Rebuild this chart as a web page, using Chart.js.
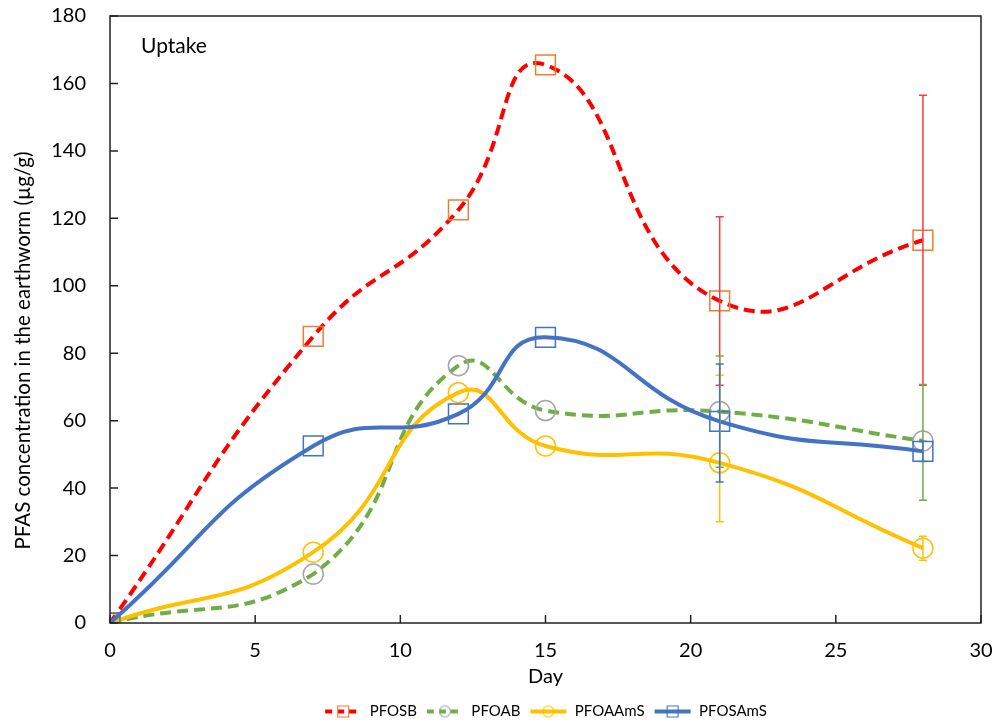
<!DOCTYPE html>
<html>
<head>
<meta charset="utf-8">
<script src="https://cdn.jsdelivr.net/npm/chart.js@4/dist/chart.umd.min.js"></script>
<style>
  html, body { margin: 0; padding: 0; background: #fff; }
  #wrap { width: 997px; height: 725px; }
</style>
</head>
<body>
<div id="wrap"><canvas id="uptakeChart"></canvas></div>
<script>
// sampling days
const days = [0, 7, 12, 15, 21, 28];

// mean concentrations (µg/g)
const pfosb = [0, 85, 122.5, 165.5, 95.5, 113.5];
const pfoab = [0, 14.5, 76.3, 63, 62.7, 54];
const pfoaams = [0, 21, 68.3, 52.5, 47.5, 22.2];
const pfosams = [0, 52.5, 62, 84.7, 59.8, 50.9];

// error bars (upper / lower), 0 = none shown
const pfosbErrUp = [0, 0, 0, 0, 25, 43];
const pfosbErrDown = [0, 0, 0, 0, 25, 43];
const pfoabErrUp = [0, 0, 0, 0, 16.5, 16.7];
const pfoabErrDown = [0, 0, 0, 0, 16.5, 17.6];
const pfoaamsErrUp = [0, 0, 0, 0, 26, 3.5];
const pfoaamsErrDown = [0, 0, 0, 0, 17.5, 3.6];
const pfosamsErrUp = [0, 0, 0, 0, 17, 3];
const pfosamsErrDown = [0, 0, 0, 0, 18, 3];

const xTicks = [0, 5, 10, 15, 20, 25, 30];
const yTicks = [0, 20, 40, 60, 80, 100, 120, 140, 160, 180];

const yTitle = 'PFAS concentration in the earthworm (µg/g)';
const FONT = 'Lato, "Open Sans", sans-serif';

function points(values) {
  return days.map((d, i) => ({ x: d, y: values[i] }));
}

// fixed axis box, no extra room reserved for overhanging tick labels
function fixBox(sc, w, h) {
  if (w) sc.width = w;
  if (h) sc.height = h;
  sc.paddingTop = sc.paddingBottom = sc.paddingLeft = sc.paddingRight = 0;
}

// small legend swatch: line sample with the marker in the middle
function swatch(lineColor, dash, markerColor, shape) {
  const c = document.createElement('canvas');
  c.width = 38; c.height = 14;
  const g = c.getContext('2d');
  g.strokeStyle = lineColor;
  g.lineWidth = 4;
  g.setLineDash(dash);
  g.beginPath(); g.moveTo(1, 7); g.lineTo(37, 7); g.stroke();
  g.setLineDash([]);
  g.strokeStyle = markerColor;
  g.lineWidth = 1.2;
  g.beginPath();
  if (shape === 'rect') g.rect(13.5, 1.5, 11, 11);
  else g.arc(19, 7, 5.5, 0, Math.PI * 2);
  g.stroke();
  return c;
}

const series = [
  { label: 'PFOSB', data: pfosb, up: pfosbErrUp, down: pfosbErrDown, color: '#FF0000', marker: '#ED7D31', shape: 'rect', dash: [11, 6], errColor: '#FF3B3B', order: 4 },
  { label: 'PFOAB', data: pfoab, up: pfoabErrUp, down: pfoabErrDown, color: '#70AD47', marker: '#A5A5A5', shape: 'circle', dash: [11, 6], errColor: '#70AD47', order: 3 },
  { label: 'PFOAAmS', data: pfoaams, up: pfoaamsErrUp, down: pfoaamsErrDown, color: '#FFC000', marker: '#FFC000', shape: 'circle', dash: [], errColor: '#FFC000', order: 2 },
  { label: 'PFOSAmS', data: pfosams, up: pfosamsErrUp, down: pfosamsErrDown, color: '#4472C4', marker: '#4472C4', shape: 'rect', dash: [], errColor: '#4472C4', order: 1 }
];

// error bars, inward tick marks, frame, y title and the "Uptake" note
const decorations = {
  id: 'decorations',
  afterDatasetsDraw(chart) {
    const ctx = chart.ctx;
    const xs = chart.scales.x, ys = chart.scales.y;
    ctx.save();
    series.forEach(s => {
      ctx.strokeStyle = s.errColor;
      ctx.lineWidth = 1.5;
      days.forEach((d, i) => {
        if (!s.up[i] && !s.down[i]) return;
        const px = xs.getPixelForValue(d);
        const top = ys.getPixelForValue(s.data[i] + s.up[i]);
        const bot = ys.getPixelForValue(s.data[i] - s.down[i]);
        ctx.beginPath();
        ctx.moveTo(px, top); ctx.lineTo(px, bot);
        ctx.moveTo(px - 4, top); ctx.lineTo(px + 4, top);
        ctx.moveTo(px - 4, bot); ctx.lineTo(px + 4, bot);
        ctx.stroke();
      });
    });
    ctx.restore();
  },
  afterDraw(chart) {
    const ctx = chart.ctx;
    const a = chart.chartArea;
    const xs = chart.scales.x, ys = chart.scales.y;
    ctx.save();
    ctx.strokeStyle = '#222';
    ctx.lineWidth = 1.5;
    ctx.strokeRect(a.left, a.top, a.right - a.left, a.bottom - a.top);
    ctx.beginPath();
    xTicks.forEach(v => {
      const px = xs.getPixelForValue(v);
      ctx.moveTo(px, a.bottom); ctx.lineTo(px, a.bottom - 8);
    });
    yTicks.forEach(v => {
      const py = ys.getPixelForValue(v);
      ctx.moveTo(a.left, py); ctx.lineTo(a.left + 8, py);
    });
    ctx.stroke();
    ctx.fillStyle = '#000';
    ctx.font = '21px ' + FONT;
    ctx.textBaseline = 'middle';
    ctx.fillText('Uptake', a.left + 31, a.top + 30);
    // y title, set a little below the middle of the plot
    ctx.font = '20.5px ' + FONT;
    ctx.textAlign = 'center';
    ctx.translate(23, (a.top + a.bottom) / 2 + 31);
    ctx.rotate(-Math.PI / 2);
    ctx.fillText(yTitle, 0, 0);
    ctx.restore();
  }
};

document.addEventListener('DOMContentLoaded', function () {
  const ctx = document.getElementById('uptakeChart').getContext('2d');
  new Chart(ctx, {
    type: 'line',
    data: {
      datasets: series.map(s => ({
        label: s.label,
        data: points(s.data),
        borderColor: s.color,
        borderWidth: 4,
        borderDash: s.dash,
        backgroundColor: 'rgba(0,0,0,0)',
        fill: false,
        tension: 0.5,
        pointStyle: s.shape,
        pointRadius: s.shape === 'rect' ? 14 : 10,
        pointBorderColor: s.marker,
        pointBorderWidth: 1.5,
        pointBackgroundColor: 'rgba(0,0,0,0)',
        order: s.order
      }))
    },
    options: {
      responsive: true,
      maintainAspectRatio: false,
      animation: false,
      layout: { padding: { left: 0, right: 16, top: 16, bottom: -4 } },
      scales: {
        x: {
          type: 'linear',
          min: 0, max: 30,
          afterBuildTicks: sc => { sc.ticks = xTicks.map(v => ({ value: v })); },
          afterFit: sc => fixBox(sc, 0, 72),
          grid: { display: false, drawTicks: false },
          border: { display: false },
          ticks: { color: '#000', font: { family: FONT, size: 20 }, padding: 16, maxRotation: 0 },
          title: { display: true, text: 'Day', color: '#000', font: { family: FONT, size: 20 }, padding: { top: 0, bottom: 6 } }
        },
        y: {
          min: 0, max: 180,
          afterBuildTicks: sc => { sc.ticks = yTicks.map(v => ({ value: v })); },
          afterFit: sc => fixBox(sc, 110, 0),
          grid: { display: false, drawTicks: false },
          border: { display: false },
          ticks: { color: '#000', font: { family: FONT, size: 20 }, padding: 24 },
          title: { display: false }
        }
      },
      plugins: {
        tooltip: { enabled: false },
        legend: {
          position: 'bottom',
          fullSize: false,
          labels: {
            usePointStyle: true,
            pointStyleWidth: 38,
            boxHeight: 14,
            color: '#000',
            padding: 9,
            font: { family: FONT, size: 15 },
            generateLabels: () => series.map(s => ({
              text: s.label,
              pointStyle: swatch(s.color, s.dash.length ? [7, 5] : [], s.marker, s.shape),
              fillStyle: 'rgba(0,0,0,0)',
              strokeStyle: 'rgba(0,0,0,0)',
              lineWidth: 0,
              hidden: false
            }))
          }
        }
      }
    },
    plugins: [decorations]
  });
});
</script>
</body>
</html>
